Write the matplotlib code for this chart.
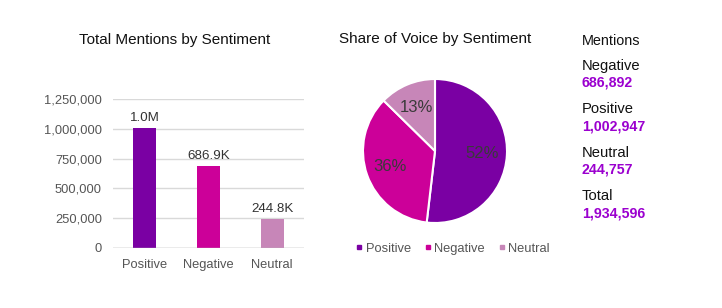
import matplotlib
matplotlib.use('Agg')
import matplotlib.pyplot as plt
from matplotlib.lines import Line2D
import numpy as np

plt.rcParams['font.family'] = ['Liberation Sans', 'DejaVu Sans']

# ── Data ─────────────────────────────────────────────────────────────────────
categories = ['Positive', 'Negative', 'Neutral']
mentions = [1002947, 686892, 244757]
bar_labels = ['1.0M', '686.9K', '244.8K']
y_ticks = [0, 250000, 500000, 750000, 1000000, 1250000]

side_names = ['Negative', 'Positive', 'Neutral', 'Total']
side_values = [686892, 1002947, 244757, 1934596]

# ── Colours ──────────────────────────────────────────────────────────────────
COLORS = ['#7A00A3', '#CC0099', '#C786B8']
VALUE = '#9B00CF'
GRID = '#D9D9D9'
TICK = '#555555'

fig = plt.figure(figsize=(7.22, 3.08), dpi=100)

# ── Bar chart ────────────────────────────────────────────────────────────────
ax = fig.add_axes([113 / 722, 1 - 248 / 308, 191 / 722, 149 / 308])
x = range(len(categories))
ax.bar(x, mentions, width=0.36, color=COLORS, zorder=3)
for xi, v, lab in zip(x, mentions, bar_labels):
    ax.text(xi, v + 35000, lab, ha='center', va='bottom', fontsize=9.6, color='#333333')
ax.set_ylim(0, 1250000)
ax.set_xlim(-0.5, 2.5)
ax.set_yticks(y_ticks)
ax.set_yticklabels([f'{t:,}' for t in y_ticks])
ax.set_xticks(list(x))
ax.set_xticklabels(categories)
ax.yaxis.grid(True, color=GRID, lw=1, zorder=0)
ax.tick_params(length=0, labelsize=9.3, colors=TICK, pad=8)
ax.tick_params(axis='y', pad=8)
for sp in ax.spines.values():
    sp.set_visible(False)
ax.axhline(0, color='#BBBBBB', lw=1, zorder=4)
fig.text(175 / 722, 1 - 40 / 308, 'Total Mentions by Sentiment', ha='center', va='center',
         fontsize=11, color='#111111')

# ── Pie chart ────────────────────────────────────────────────────────────────
r = 72
cx, cy = 435, 151
ax2 = fig.add_axes([(cx - r) / 722, 1 - (cy + r) / 308, 2 * r / 722, 2 * r / 308])
total = sum(mentions)
wedges, texts = ax2.pie(mentions, colors=COLORS, startangle=90, counterclock=False,
                        wedgeprops=dict(edgecolor='white', linewidth=1.5))
for w, v in zip(wedges, mentions):
    ang = np.deg2rad((w.theta1 + w.theta2) / 2)
    ax2.text(0.66 * np.cos(ang), 0.66 * np.sin(ang), f'{round(100 * v / total)}%',
             ha='center', va='center', fontsize=12, color='#3A3A3A')
ax2.set_xlim(-1, 1)
ax2.set_ylim(-1, 1)
ax2.set_aspect('equal')
fig.text(435 / 722, 1 - 39 / 308, 'Share of Voice by Sentiment', ha='center', va='center',
         fontsize=11, color='#111111')

handles = [Line2D([], [], marker='s', ls='', color=c, markersize=3.5) for c in COLORS]
fig.legend(handles, categories, loc='center', bbox_to_anchor=(452 / 722, 1 - 249 / 308),
           ncol=3, frameon=False, fontsize=9.3, handletextpad=0.1, columnspacing=0.9,
           handlelength=0.8, labelcolor='#555555')

# ── Side summary ─────────────────────────────────────────────────────────────
fig.text(582 / 722, 1 - 41 / 308, 'Mentions', ha='left', va='center', fontsize=10.4, color='#111111')
name_y = [66, 109, 153, 196]
for ny, name, val in zip(name_y, side_names, side_values):
    fig.text(582 / 722, 1 - ny / 308, name, ha='left', va='center', fontsize=10.6, color='#111111')
    fig.text(582 / 722, 1 - (ny + 17) / 308, f'{val:,}', ha='left', va='center', fontsize=10.2,
             color=VALUE, fontweight='bold')

fig.savefig('out.png', dpi=100, facecolor='white')
